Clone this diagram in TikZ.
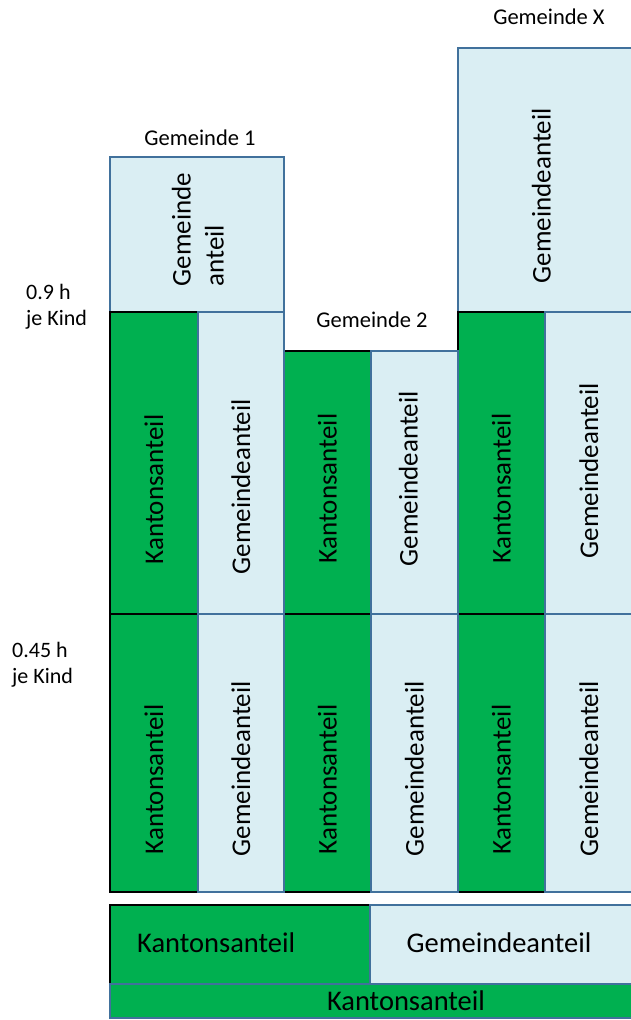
\documentclass[tikz,border=0pt]{standalone}
\usepackage{fontspec}
\setmainfont{Carlito}
\usetikzlibrary{positioning}
\definecolor{kgreen}{HTML}{00B050}
\definecolor{glight}{HTML}{DAEEF3}
\definecolor{gline}{HTML}{41719C}

\begin{document}
\begin{tikzpicture}[x=1pt,y=-1pt,
	kanton/.style={rectangle,draw=black,fill=kgreen,line width=1.5pt,anchor=north west,inner sep=0pt},
	gemeinde/.style={rectangle,draw=gline,fill=glight,line width=1.5pt,anchor=north west,inner sep=0pt},
	vtext/.style={rotate=90,anchor=west,inner sep=0pt,font=\fontsize{27}{33}\selectfont},
	htext/.style={inner sep=0pt,font=\fontsize{28.5}{34}\selectfont},
	gemname/.style={inner sep=0pt,font=\fontsize{22.5}{26}\selectfont},
	sidenote/.style={inner sep=0pt,align=left,anchor=west,font=\fontsize{22}{26}\selectfont}]
	
	\useasboundingbox (0,0) rectangle (630,1020);
	
	% top parts
	\node[gemeinde, minimum width=174, minimum height=155] (g1t) at (109,156) {};
	\node[gemeinde, minimum width=175, minimum height=264] (gxt) at (457,47) {};
	
	% cantonal parts
	\node[kanton, minimum width=88, minimum height=302] (k1m) at (109,311) {};
	\node[kanton, minimum width=87, minimum height=263] (k2m) at (283,350) {};
	\node[kanton, minimum width=87, minimum height=302] (kxm) at (457,311) {};
	\node[kanton, minimum width=88, minimum height=278] (k1b) at (109,613) {};
	\node[kanton, minimum width=87, minimum height=278] (k2b) at (283,613) {};
	\node[kanton, minimum width=87, minimum height=278] (kxb) at (457,613) {};
	\node[kanton, minimum width=260, minimum height=79] (kbar) at (109,904) {};
	
	% communal parts
	\node[gemeinde, minimum width=86, minimum height=302] (g1m) at (197,311) {};
	\node[gemeinde, minimum width=87, minimum height=263] (g2m) at (370,350) {};
	\node[gemeinde, minimum width=88, minimum height=302] (gxm) at (544,311) {};
	\node[gemeinde, minimum width=86, minimum height=278] (g1b) at (197,613) {};
	\node[gemeinde, minimum width=87, minimum height=278] (g2b) at (370,613) {};
	\node[gemeinde, minimum width=88, minimum height=278] (gxb) at (544,613) {};
	\node[gemeinde, minimum width=263, minimum height=79] (gbar) at (369,904) {};
	\node[kanton, draw=gline, minimum width=523, minimum height=34] (kfull) at (109,983) {};
	
	% vertical texts
	\node[vtext, align=left] (t1) at ([xshift=1,yshift=26]g1t.south) {Gemeinde\\anteil};
	\node[vtext] (tx) at ([xshift=-4,yshift=29]gxt.south) {Gemeindeanteil};
	\node[vtext] (t2) at ([yshift=50]k1m.south) {Kantonsanteil};
	\node[vtext] (t3) at ([yshift=40]g1m.south) {Gemeindeanteil};
	\node[vtext] (t4) at ([yshift=51]k2m.south) {Kantonsanteil};
	\node[vtext] (t5) at ([xshift=-6,yshift=48]g2m.south) {Gemeindeanteil};
	\node[vtext] (t6) at ([yshift=51]kxm.south) {Kantonsanteil};
	\node[vtext] (t7) at ([yshift=56]gxm.south) {Gemeindeanteil};
	\node[vtext] (t8) at ([yshift=38]k1b.south) {Kantonsanteil};
	\node[vtext] (t9) at ([yshift=36]g1b.south) {Gemeindeanteil};
	\node[vtext] (t10) at ([yshift=38]k2b.south) {Kantonsanteil};
	\node[vtext] (t11) at ([yshift=36]g2b.south) {Gemeindeanteil};
	\node[vtext] (t12) at ([yshift=38]kxb.south) {Kantonsanteil};
	\node[vtext] (t13) at ([yshift=36]gxb.south) {Gemeindeanteil};
	
	% horizontal texts
	\node[htext, anchor=west] (t14) at (137,943) {Kantonsanteil};
	\node[htext] (t15) at (499,943) {Gemeindeanteil};
	\node[htext] (t16) at (406,1001) {Kantonsanteil};
	
	% names and notes
	\node[gemname] (n1) at (200,138) {Gemeinde 1};
	\node[gemname] (n2) at (372,320) {Gemeinde 2};
	\node[gemname] (nx) at (549,17) {Gemeinde X};
	\node[sidenote] (s1) at (26,307) {0.9 h\\je Kind};
	\node[sidenote] (s2) at (12,665) {0.45 h\\je Kind};
\end{tikzpicture}
\end{document}
